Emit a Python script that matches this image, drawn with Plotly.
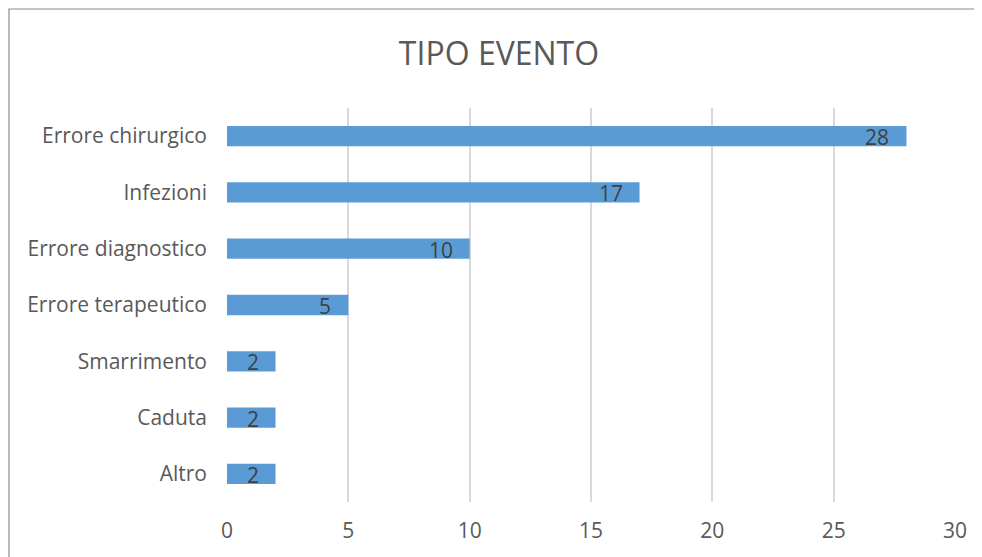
import plotly.graph_objects as go

categories = ["Altro", "Caduta", "Smarrimento", "Errore terapeutico",
              "Errore diagnostico", "Infezioni", "Errore chirurgico"]
values = [2, 2, 2, 5, 10, 17, 28]
x_ticks = [0, 5, 10, 15, 20, 25, 30]

FONT = "'Open Sans', sans-serif"

fig = go.Figure(go.Bar(
    y=categories, x=values, orientation="h",
    marker=dict(color="#5B9BD5", line=dict(width=0)),
    width=0.36,
    hoverinfo="skip",
))

annotations = [
    dict(x=v, y=c, xref="x", yref="y", text=str(v), showarrow=False,
         xanchor="right", yanchor="middle", xshift=-15, yshift=-1,
         font=dict(family=FONT, size=21, color="#404040"))
    for c, v in zip(categories, values)
]

fig.update_layout(
    width=982, height=557,
    margin=dict(l=219, r=35, t=100, b=63),
    paper_bgcolor="white", plot_bgcolor="white",
    title=dict(text="TIPO EVENTO", x=0.5, xanchor="center", y=1 - 46 / 557, yanchor="middle",
               font=dict(family=FONT, size=32, color="#595959")),
    showlegend=False,
    xaxis=dict(range=[0, 30], tickvals=x_ticks, showgrid=True, gridcolor="#D9D9D9",
               gridwidth=1.5, zeroline=False, showline=False, ticks="",
               tickfont=dict(family=FONT, size=21, color="#595959"), ticklabelstandoff=14),
    yaxis=dict(range=[-0.5, 6.5], showgrid=False, zeroline=False, showline=False,
               ticks="", tickfont=dict(family=FONT, size=21, color="#595959"),
               ticklabelstandoff=19),
    annotations=annotations,
    shapes=[dict(type="rect", xref="paper", yref="paper",
                 x0=(1 - 219) / 728, x1=1.2, y0=-0.3, y1=(494 - 1) / 394,
                 line=dict(color="#8C8C8C", width=1.2), fillcolor="rgba(0,0,0,0)", layer="below")],
)

fig.write_html("out.html")
